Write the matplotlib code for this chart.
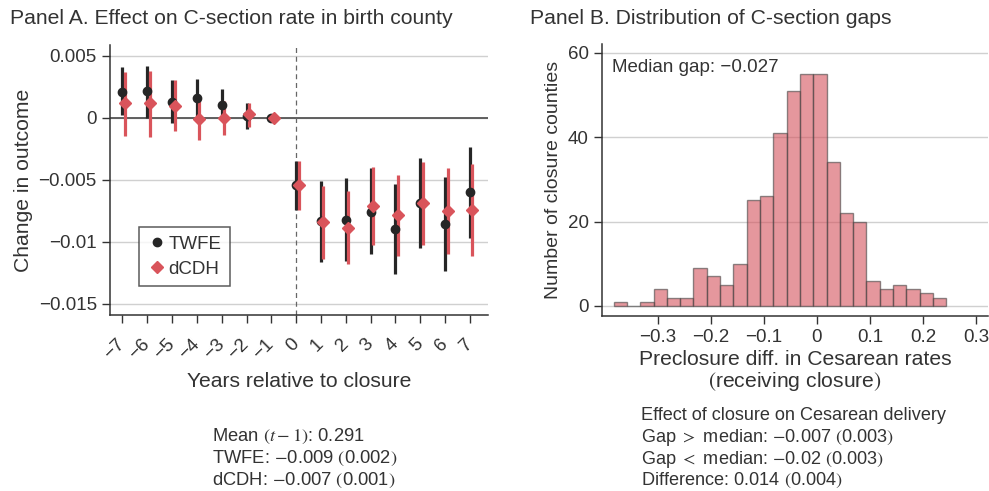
import numpy as np
import matplotlib
matplotlib.use("Agg")
import matplotlib.pyplot as plt

plt.rcParams['font.family'] = ['Liberation Sans', 'DejaVu Sans']
plt.rcParams['mathtext.fontset'] = 'stix'

# Panel A: event-study estimates
years = [-7, -6, -5, -4, -3, -2, -1, 0, 1, 2, 3, 4, 5, 6, 7]
twfe = [0.0021, 0.00215, 0.0013, 0.0016, 0.00105, 0.00013, 0.0,
        -0.00546, -0.00833, -0.00825, -0.00758, -0.00898, -0.0069, -0.00858, -0.00602]
twfe_hi = [0.0041, 0.0042, 0.003, 0.0031, 0.0023, 0.0012, 0.0,
           -0.0035, -0.00508, -0.00487, -0.00403, -0.00535, -0.00325, -0.00481, -0.00239]
twfe_lo = [0.0002, 0.0, -0.0004, 0.0, -0.0002, -0.00094, 0.0,
           -0.00745, -0.0116, -0.01156, -0.011, -0.01258, -0.0105, -0.01234, -0.00968]
dcdh = [0.00116, 0.00116, 0.00094, -0.00013, 0.0, 0.00027, 0.0,
        -0.0054, -0.00844, -0.00887, -0.00712, -0.00788, -0.00691, -0.00753, -0.00745]
dcdh_hi = [0.00371, 0.00376, 0.003, 0.00156, 0.00137, 0.0012, 0.0,
           -0.0035, -0.00548, -0.00591, -0.004, -0.00465, -0.00355, -0.00406, -0.00374]
dcdh_lo = [-0.00148, -0.00159, -0.00108, -0.0018, -0.0014, -0.00078, 0.0,
           -0.0074, -0.01142, -0.0118, -0.01027, -0.01113, -0.01027, -0.01097, -0.01116]

# Panel B: histogram of gaps
bin_start = -0.3836
bin_width = 0.0251
counts = [1, 0, 1, 4, 2, 2, 9, 7, 5, 10, 25, 26, 41, 51, 55, 55, 34, 22, 20, 6, 4, 5, 4, 3, 2]

txt = '#333333'
red = '#d9545b'
blk = '#262626'

fig = plt.figure(figsize=(9.89, 4.91), dpi=100)
axA = fig.add_axes([110/989, 176/491, 378/989, 270/491])
axB = fig.add_axes([602/989, 175.3/491, 386/989, 271.7/491])

# ---- Panel A
x = np.array(years, dtype=float)
off = 0.1
axA.axhline(0, color='#555555', lw=1.3, zorder=1)
axA.axvline(0, color='#666666', lw=0.9, ls=(0, (4, 3)), zorder=1)
axA.vlines(x, twfe_lo, twfe_hi, color=blk, lw=2.3, zorder=2)
axA.vlines(x + off, dcdh_lo, dcdh_hi, color=red, lw=2.3, zorder=3)
axA.plot(x, twfe, 'o', color=blk, ms=6, zorder=4, label='TWFE')
axA.plot(x + off, dcdh, 'D', color=red, ms=6.5, zorder=5, label='dCDH')
axA.set_xlim(-7.5, 7.73)
axA.set_ylim(-0.0159, 0.00586)
axA.set_yticks([0.005, 0, -0.005, -0.01, -0.015])
axA.set_yticklabels(['0.005', '0', '\u22120.005', '\u22120.01', '\u22120.015'])
axA.yaxis.grid(True, color='#d0d0d0', lw=1)
axA.set_axisbelow(True)
axA.set_xticks(years)
axA.set_xticklabels([str(y).replace('-', '\u2212') for y in years],
                    rotation=45, ha='right', va='center', rotation_mode='anchor')
axA.tick_params(axis='x', length=6, width=1, color=txt, labelsize=13.5, labelcolor=txt, pad=13)
axA.tick_params(axis='y', length=6, width=1, color=txt, labelsize=13.5, labelcolor=txt)
for s in ['top', 'right']:
    axA.spines[s].set_visible(False)
for s in ['left', 'bottom']:
    axA.spines[s].set_color(txt)
    axA.spines[s].set_linewidth(1.1)
axA.set_ylabel('Change in outcome', fontsize=15.2, color=txt, labelpad=4)
axA.set_xlabel('Years relative to closure', fontsize=15.2, color=txt, labelpad=7)
leg = axA.legend(loc='lower left', bbox_to_anchor=(0.077, 0.107), borderaxespad=0,
                 frameon=True, fancybox=False, fontsize=13.5, handletextpad=0.1,
                 borderpad=0.45, handlelength=1.0, labelspacing=0.4)
leg.get_frame().set_edgecolor(txt)
leg.get_frame().set_linewidth(1.1)
for t in leg.get_texts():
    t.set_color(txt)

# ---- Panel B
left_edges = bin_start + bin_width * np.arange(len(counts))
axB.bar(left_edges, counts, width=bin_width, align='edge', color='#d5525c', alpha=0.6,
        edgecolor='#444444', linewidth=1.0, zorder=2)
axB.set_xlim(-0.4056, 0.3226)
axB.set_ylim(-2.3, 62.06)
axB.set_yticks([0, 20, 40, 60])
axB.yaxis.grid(True, color='#d0d0d0', lw=1, zorder=0)
axB.set_axisbelow(True)
xt = [-0.3, -0.2, -0.1, 0, 0.1, 0.2, 0.3]
axB.set_xticks(xt)
axB.set_xticklabels(['\u22120.3', '\u22120.2', '\u22120.1', '0', '0.1', '0.2', '0.3'])
for lab in axB.get_xticklabels():
    lab.set_clip_on(False)
axB.tick_params(length=6, width=1, color=txt, labelsize=13.5, labelcolor=txt)
for s in ['top', 'right']:
    axB.spines[s].set_visible(False)
for s in ['left', 'bottom']:
    axB.spines[s].set_color(txt)
    axB.spines[s].set_linewidth(1.1)
axB.set_ylabel('Number of closure counties', fontsize=14, color=txt, labelpad=4)
axB.set_xlabel('Preclosure diff. in Cesarean rates\n$($receiving closure$)$', fontsize=15.2,
               color=txt, labelpad=3, linespacing=1.05)
axB.text(0.025, 0.915, 'Median gap: \u22120.027', transform=axB.transAxes, fontsize=13.5,
         color=txt, va='center')

# ---- titles and notes
fig.text(10/989, 1 - 18/491, 'Panel A. Effect on C-section rate in birth county',
         fontsize=15.2, color=txt, va='center')
fig.text(530/989, 1 - 18/491, 'Panel B. Distribution of C-section gaps',
         fontsize=15.2, color=txt, va='center')

notesA = ['Mean $(t-1)$: 0.291',
          'TWFE: $-$0.009 $($0.002$)$',
          'dCDH: $-$0.007 $($0.001$)$']
for i, s in enumerate(notesA):
    fig.text(212/989, 1 - (436 + 22.3 * i)/491, s, fontsize=13.2, color=txt, va='center')

notesB = ['Effect of closure on Cesarean delivery',
          'Gap $>$ median: $-$0.007 $($0.003$)$',
          'Gap $<$ median: $-$0.02 $($0.003$)$',
          'Difference: 0.014 $($0.004$)$']
for i, s in enumerate(notesB):
    fig.text(641/989, 1 - (415.5 + 21.8 * i)/491, s, fontsize=13.1, color=txt, va='center')

fig.savefig('out.png', dpi=100)
